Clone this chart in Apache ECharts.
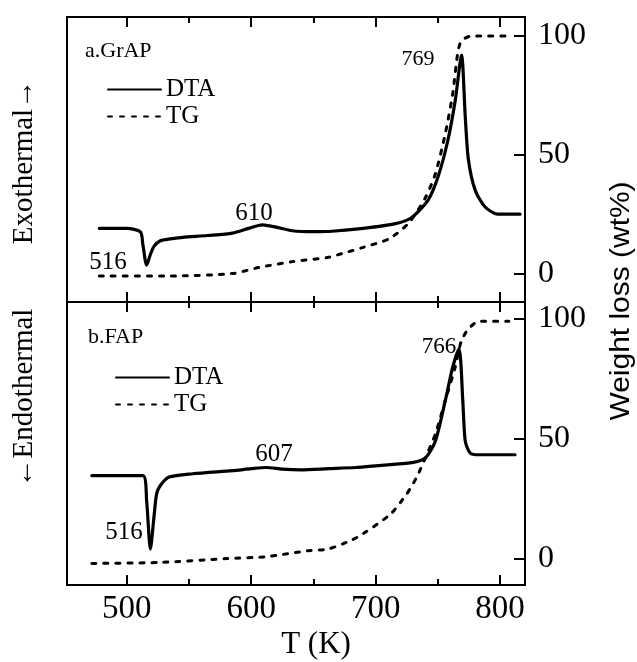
<!DOCTYPE html>
<html lang="en">

<head>
    <meta charset="UTF-8">
    <title>DTA / TG</title>
    <script src="https://cdn.jsdelivr.net/npm/echarts@6/dist/echarts.min.js"></script>
    <style>
        html, body { margin: 0; padding: 0; background: #fff; }
    </style>
</head>

<body>
    <div id="main" style="width:637px;height:662px;"></div>
    <script>
        // a.GrAP  [T (K), value]
        var grapDTA = [[478, 19], [500, 19], [511, 17.5], [513, 12], [516, 3.5], [519, 8], [522, 11.5], [527, 13.8],
            [535, 14.6], [545, 15.2], [565, 16], [585, 17], [598, 19], [609, 20.5], [620, 19.5], [633, 18],
            [650, 17.6], [665, 17.8], [690, 19], [716, 21], [729, 23.6], [742, 30.8], [750, 40.5], [758, 56],
            [764, 73], [769, 92], [772, 66], [774.5, 48], [780, 35], [788, 28], [798, 25], [816, 25]];
        var grapTG = [[478, -1], [540, -1], [585, 0], [606, 2.5], [633, 5], [662, 6.8], [673, 8.4], [690, 11],
            [711, 14.7], [727, 21.5], [740, 32], [748, 42], [756, 59], [762, 76], [766, 93], [769, 98],
            [777, 100], [810, 100]];
        // b.FAP
        var fapDTA = [[472, 34.6], [513, 34.6], [516, 24], [519, 4], [522, 18], [524, 27], [527, 30.5], [534, 34],
            [553, 35.4], [585, 36.7], [600, 37.5], [612, 38], [625, 37.3], [640, 37], [662, 37.5], [684, 38],
            [702, 38.8], [729, 40], [740, 42], [748, 49], [756, 66], [762, 80], [767, 87.5], [770, 66],
            [772, 49], [776, 44], [783, 43.3], [812, 43.3]];
        var fapTG = [[472, -2], [526, -1.6], [580, 0], [612, 0.8], [646, 3.3], [662, 4], [681, 7.8], [690, 10.4],
            [712, 18.6], [725, 27], [733, 34], [740, 42], [748, 52], [756, 66], [764, 80], [769, 91],
            [775, 96], [783, 99], [807, 99]];

        var xMajor = [500, 600, 700, 800];
        var xMinor = [550, 650, 750];
        var yTicks = [0, 50, 100];
        var panelNames = ['a.GrAP', 'b.FAP'];
        var peaksA = ['516', '610', '769'];
        var peaksB = ['516', '607', '766'];

        var serif = 'Liberation Serif';
        var myChart = echarts.init(document.getElementById('main'));

        var frame = { show: true, onZero: false, lineStyle: { color: '#000', width: 2 } };
        var blackSplit = { show: true, lineStyle: { color: '#000', width: 2 } };

        var grids = [
            { left: 67, top: 17, width: 458, height: 285 },
            { left: 67, top: 302, width: 458, height: 283 }
        ];
        var xAxes = [];
        var yAxes = [];

        function xAxisOf(grid, pos, labels) {
            return {
                type: 'value', gridIndex: grid, position: pos, min: 452, max: 820,
                axisLine: frame,
                splitLine: { show: false },
                axisTick: { show: false },
                axisLabel: labels ? { show: true, customValues: xMajor.slice(), margin: 8, color: '#000', fontFamily: serif, fontSize: 33 } : { show: false }
            };
        }
        function yAxisOf(grid, min, max, pos, labels) {
            return {
                type: 'value', gridIndex: grid, position: pos, min: min, max: max,
                axisLine: frame,
                splitLine: { show: false },
                axisTick: { show: false },
                axisLabel: labels ? { show: true, customValues: yTicks.slice(), margin: 13, color: '#000', fontFamily: serif, fontSize: 32 } : { show: false }
            };
        }
        xAxes.push(xAxisOf(0, 'bottom'), xAxisOf(0, 'top'), xAxisOf(1, 'bottom', true), xAxisOf(1, 'top'));
        yAxes.push(yAxisOf(0, -12, 108, 'right', true), yAxisOf(1, -11, 107, 'right', true),
            yAxisOf(0, -12, 108, 'left'), yAxisOf(1, -11, 107, 'left'));

        // tick marks: thin strips along the frame whose split lines sit at the tick values
        function xTickStrip(top, h, vals) {
            var g = grids.length;
            grids.push({ left: 67, top: top, width: 458, height: h });
            xAxes.push({
                type: 'value', gridIndex: g, min: 452, max: 820,
                axisLine: { show: false, onZero: false }, axisLabel: { show: false },
                axisTick: { show: true, inside: true, length: h, customValues: vals.slice(), lineStyle: { color: '#000', width: 2 } },
                splitLine: blackSplit
            });
            yAxes.push({ type: 'value', gridIndex: g, min: 0, max: 1, show: false });
        }
        function yTickStrip(top, h, min, max) {
            var g = grids.length;
            grids.push({ left: 514, top: top, width: 11, height: h });
            xAxes.push({ type: 'value', gridIndex: g, min: 0, max: 1, show: false });
            yAxes.push({
                type: 'value', gridIndex: g, position: 'right', min: min, max: max,
                axisLine: { show: false, onZero: false }, axisLabel: { show: false },
                axisTick: { show: true, inside: true, length: 11, customValues: yTicks.slice(), lineStyle: { color: '#000', width: 2 } },
                splitLine: blackSplit
            });
        }
        xTickStrip(17, 10, xMajor);
        xTickStrip(17, 6, xMinor);
        xTickStrip(292, 20, xMajor);
        xTickStrip(296, 12, xMinor);
        xTickStrip(575, 10, xMajor);
        xTickStrip(579, 6, xMinor);
        yTickStrip(17, 285, -12, 108);
        yTickStrip(302, 283, -11, 107);

        function lineOf(name, data, xi, yi, dashed) {
            return {
                name: name, type: 'line', data: data, xAxisIndex: xi, yAxisIndex: yi,
                symbol: 'none', smooth: 0.25, silent: true,
                lineStyle: { color: '#000', width: dashed ? 3 : 3.2, type: dashed ? [4, 8] : 'solid', cap: 'round' },
                itemStyle: { color: '#000' }
            };
        }
        function legendOf(left, top) {
            return {
                left: left, top: top, orient: 'vertical', data: ['DTA', 'TG'], selectedMode: false,
                itemWidth: 53, itemHeight: 14, itemGap: 2,
                itemStyle: { opacity: 0 },
                textStyle: { color: '#000', fontFamily: serif, fontSize: 25 }
            };
        }
        function txt(x, y, s, size, font, rot, sx) {
            return {
                type: 'text', x: x, y: y, rotation: rot || 0, scaleX: sx || 1,
                style: { text: s, fill: '#000', font: size + 'px "' + (font || serif) + '"', textAlign: 'center', textVerticalAlign: 'middle' }
            };
        }

        var option = {
            backgroundColor: '#fff',
            animation: false,
            grid: grids,
            xAxis: xAxes,
            yAxis: yAxes,
            legend: [legendOf(102, 72), legendOf(110, 360)],
            series: [
                lineOf('DTA', grapDTA, 0, 2, false),
                lineOf('TG', grapTG, 0, 0, true),
                lineOf('DTA', fapDTA, 2, 3, false),
                lineOf('TG', fapTG, 2, 1, true)
            ],
            graphic: [
                { type: 'text', left: 85, top: 40, style: { text: panelNames[0], fill: '#000', font: '22px "' + serif + '"' } },
                { type: 'text', left: 88, top: 326, style: { text: panelNames[1], fill: '#000', font: '22px "' + serif + '"' } },
                txt(108, 262, peaksA[0], 25),
                txt(254, 213, peaksA[1], 25),
                txt(418, 59, peaksA[2], 22),
                txt(124, 532, peaksB[0], 25),
                txt(274, 454, peaksB[1], 25),
                txt(439, 347, peaksB[2], 23),
                txt(316, 645, 'T (K)', 31),
                txt(24, 162, 'Exothermal\u2192', 29, serif, Math.PI / 2),
                txt(24, 398, '\u2190Endothermal', 29, serif, Math.PI / 2),
                txt(621, 301, 'Weight loss (wt%)', 28, 'Liberation Sans', Math.PI / 2, 1.07)
            ]
        };
        myChart.setOption(option);
    </script>
</body>

</html>
